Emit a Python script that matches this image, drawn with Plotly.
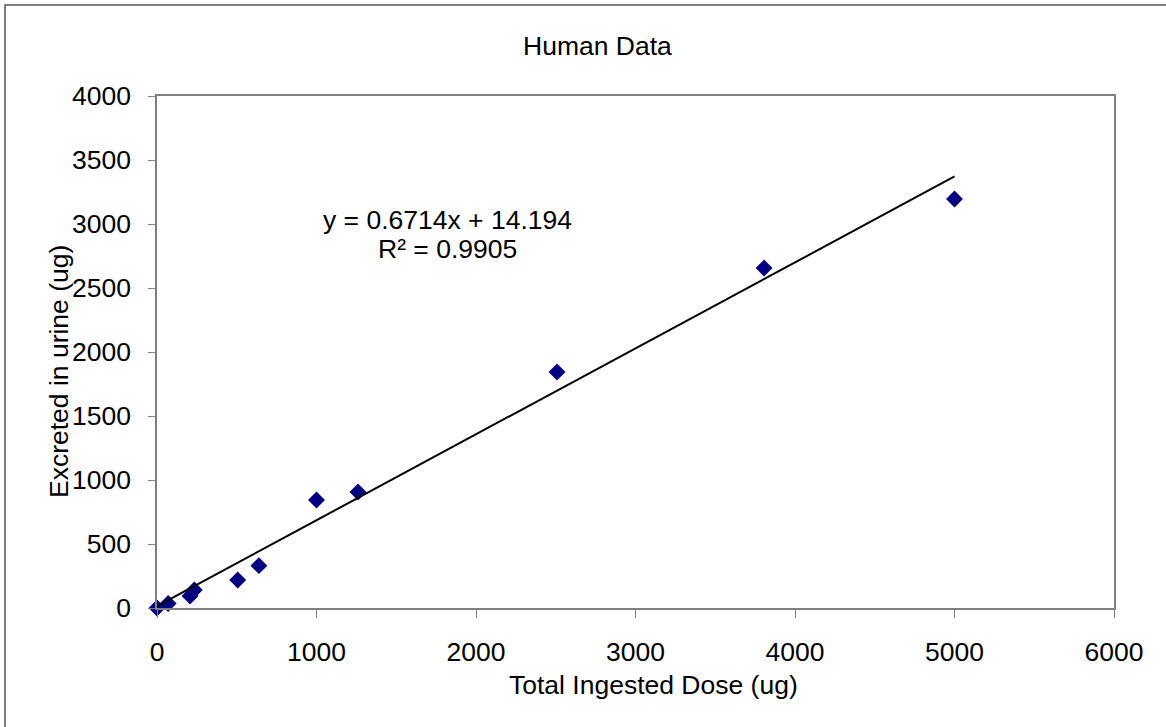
import plotly.graph_objects as go
import numpy as np

# Data
dose = [0, 70, 207, 234, 506, 639, 1000, 1260, 2508, 3806, 5000]
excreted = [0, 35, 94, 141, 219, 331, 844, 906, 1844, 2656, 3195]

slope = 0.6714
intercept = 14.194
r2 = 0.9905

x_ticks = [0, 1000, 2000, 3000, 4000, 5000, 6000]
y_ticks = [0, 500, 1000, 1500, 2000, 2500, 3000, 3500, 4000]

FONT = "Liberation Sans, Arial, sans-serif"
FS = 26.5
AX = "#808080"

fit_x = np.array([0, max(dose)])
fit_y = slope * fit_x + intercept

fig = go.Figure()
fig.add_trace(go.Scatter(x=dose, y=excreted, mode="markers",
                         marker=dict(symbol="diamond", size=13, color="#000080",
                                     line=dict(width=0)),
                         cliponaxis=False,
                         showlegend=False, hoverinfo="x+y"))
fig.add_trace(go.Scatter(x=fit_x, y=fit_y, mode="lines",
                         line=dict(color="black", width=2),
                         cliponaxis=False,
                         showlegend=False, hoverinfo="skip"))

fig.update_layout(
    width=1166, height=727,
    margin=dict(l=157, r=52, t=96, b=119),
    paper_bgcolor="white", plot_bgcolor="white",
    font=dict(family=FONT, size=FS, color="black"),
    xaxis=dict(range=[0, 6000], tickvals=x_ticks, ticks="outside", ticklen=8,
               tickcolor=AX, showline=True, linecolor=AX, linewidth=1.5,
               mirror=True, showgrid=False, zeroline=False,
               tickfont=dict(size=FS), ticklabelstandoff=11),
    yaxis=dict(range=[0, 4000], tickvals=y_ticks, ticks="outside", ticklen=7,
               tickcolor=AX, showline=True, linecolor=AX, linewidth=1.5,
               mirror=True, showgrid=False, zeroline=False,
               tickfont=dict(size=FS), ticklabelstandoff=12),
    showlegend=False,
)

ann = dict(showarrow=False, xref="paper", yref="paper",
           font=dict(family=FONT, size=FS, color="black"))
fig.add_annotation(text="Human Data", x=0.4608, y=1.0977,
                   xanchor="center", yanchor="middle", **ann)
fig.add_annotation(text="Total Ingested Dose (ug)", x=0.5183, y=-0.1504,
                   xanchor="center", yanchor="middle", **ann)
fig.add_annotation(text="Excreted in urine (ug)", x=-0.1024, y=0.4609,
                   textangle=-90, xanchor="center", yanchor="middle", **ann)
fig.add_annotation(text=f"y = {slope}x + {intercept}", x=0.304, y=0.758,
                   xanchor="center", yanchor="middle", **ann)
fig.add_annotation(text=f"R² = {r2}", x=0.304, y=0.701,
                   xanchor="center", yanchor="middle", **ann)

# outer chart frame
fig.add_shape(type="rect", xref="paper", yref="paper",
              x0=-0.1588, y0=-0.25, x1=1.07, y1=1.1777,
              line=dict(color="#555555", width=1.5), fillcolor="rgba(0,0,0,0)",
              layer="below")

fig.write_html("out.html")
